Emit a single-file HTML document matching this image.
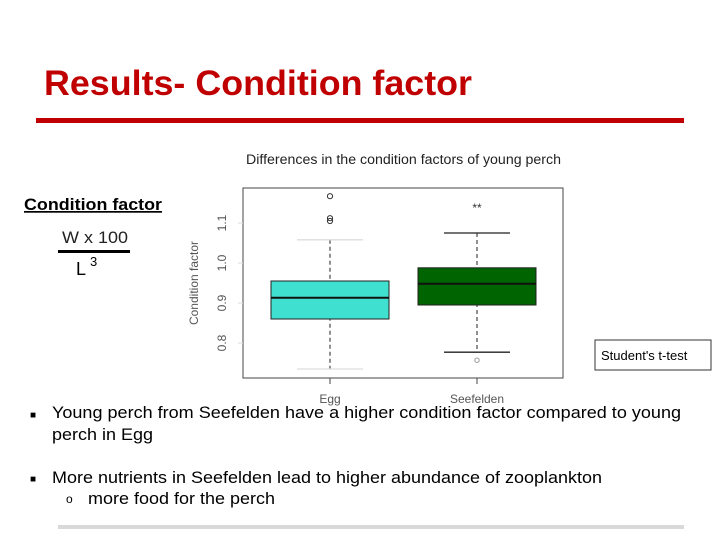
<!DOCTYPE html>
<html><head><meta charset="utf-8">
<style>
body{margin:0;width:720px;height:540px;background:#fff;overflow:hidden;font-family:"Liberation Sans",Arial,sans-serif;}
</style></head>
<body>
<svg width="720" height="540" viewBox="0 0 720 540" xmlns="http://www.w3.org/2000/svg" font-family="Liberation Sans, Arial, sans-serif">
<text x="44" y="95" font-size="35" font-weight="bold" fill="#c00000" textLength="428" lengthAdjust="spacingAndGlyphs">Results- Condition factor</text>
<rect x="36" y="118" width="648" height="5" fill="#c00000"/>
<rect x="58" y="525" width="626" height="4" fill="#d9d9d9"/>

<text x="24" y="210" font-size="17" font-weight="bold" text-decoration="underline" textLength="138" lengthAdjust="spacingAndGlyphs">Condition factor</text>
<text x="62" y="243" font-size="17" fill="#222" textLength="66" lengthAdjust="spacingAndGlyphs">W x 100</text>
<rect x="58" y="250" width="72" height="3" fill="#000"/>
<text x="76" y="275" font-size="18">L</text>
<text x="90" y="266" font-size="13">3</text>

<g id="chart"></g>

<rect x="595" y="340" width="116" height="30" fill="#fff" stroke="#333" stroke-width="1"/>
<text x="601" y="360" font-size="13">Student's t-test</text>

<text x="30" y="418" font-size="10">■</text>
<text x="52" y="418" font-size="17" textLength="629" lengthAdjust="spacingAndGlyphs">Young perch from Seefelden have a higher condition factor compared to young</text>
<text x="52" y="440" font-size="17" textLength="101" lengthAdjust="spacingAndGlyphs">perch in Egg</text>
<text x="30" y="482" font-size="10">■</text>
<text x="52" y="483" font-size="17" textLength="550" lengthAdjust="spacingAndGlyphs">More nutrients in Seefelden lead to higher abundance of zooplankton</text>
<text x="66" y="503" font-size="12">o</text>
<text x="88" y="504" font-size="17" textLength="187" lengthAdjust="spacingAndGlyphs">more food for the perch</text>
</svg>
<script>
const categories=["Egg","Seefelden"];
const q1=[0.86,0.895];
const medians=[0.913,0.948];
const q3=[0.955,0.988];
const whiskLo=[0.735,0.777];
const whiskHi=[1.058,1.075];
const outliersEgg=[1.105,1.112,1.167];
const outliersSee=[0.757];
const yTicks=[0.8,0.9,1.0,1.1];
const yTickLabels=["0.8","0.9","1.0","1.1"];
const colors=["#40e0d0","#006400"];

const NS="http://www.w3.org/2000/svg";
const g=document.getElementById("chart");
const px0=243,px1=563,py0=188,py1=378;
function y(v){return 303-(v-0.9)*400;}
function x(i){return 330+i*147;}
function mk(tag,attrs){const e=document.createElementNS(NS,tag);for(const k in attrs)e.setAttribute(k,attrs[k]);g.appendChild(e);return e;}

let t=mk("text",{x:246,y:164,"font-size":13.5,fill:"#222",textLength:315,lengthAdjust:"spacingAndGlyphs"});t.textContent="Differences in the condition factors of young perch";


let fr=mk("rect",{x:px0,y:py0,width:px1-px0,height:py1-py0,fill:"none",stroke:"#444","stroke-width":1});


yTicks.forEach((v,i)=>{
  let l=mk("line",{x1:px0-5,x2:px0,y1:y(v),y2:y(v),stroke:"#ddd"});
  
  
  let tx=mk("text",{x:226,y:y(v),"font-size":12,"text-anchor":"middle",fill:"#555",transform:`rotate(-90 226 ${y(v)})`});
  tx.textContent=yTickLabels[i];
  
  
});
let yl=mk("text",{x:198,y:283,"font-size":12,"text-anchor":"middle",fill:"#555",transform:"rotate(-90 198 283)"});yl.textContent="Condition factor";


categories.forEach((c,i)=>{
  const cx=x(i),hw=59;
  let w=mk("line",{x1:cx,x2:cx,y1:y(whiskHi[i]),y2:y(whiskLo[i]),stroke:"#222","stroke-dasharray":"4,3"});
  
  
  const capCol=i===0?"#ddd":"#222";
  [whiskHi[i],whiskLo[i]].forEach(v=>{
    let cp=mk("line",{x1:cx-33,x2:cx+33,y1:y(v),y2:y(v),stroke:capCol,"stroke-width":1.3});
    
    
  });
  let b=mk("rect",{x:cx-hw,y:y(q3[i]),width:2*hw,height:y(q1[i])-y(q3[i]),fill:colors[i],stroke:"#222","stroke-width":1});
  
  
  let m=mk("line",{x1:cx-hw,x2:cx+hw,y1:y(medians[i]),y2:y(medians[i]),stroke:"#111","stroke-width":2});
  
  
  let tk=mk("line",{x1:cx,x2:cx,y1:py1,y2:py1+6,stroke:"#444"});
  
  
  let xl=mk("text",{x:cx,y:403,"font-size":12,"text-anchor":"middle",fill:"#555"});xl.textContent=c;
  
  
});
outliersEgg.forEach(v=>{
  let o=mk("circle",{cx:x(0),cy:y(v),r:2.6,fill:"none",stroke:"#333"});
  
  
});
outliersSee.forEach(v=>{
  let o=mk("circle",{cx:x(1),cy:y(v),r:2.2,fill:"none",stroke:"#999"});
  
  
});
let s=mk("text",{x:x(1),y:212,"font-size":12,"text-anchor":"middle",fill:"#333"});s.textContent="**";


</script>
</body></html>
